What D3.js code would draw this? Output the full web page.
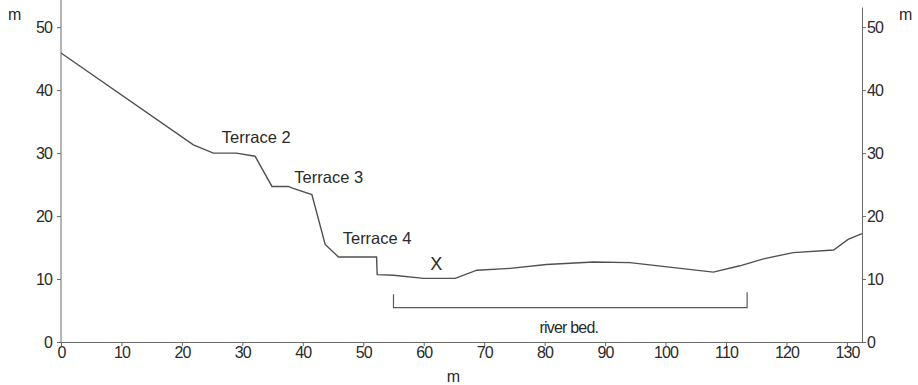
<!DOCTYPE html>
<html>
<head>
<meta charset="utf-8">
<script src="https://cdn.jsdelivr.net/npm/d3@7"></script>
<style>
    body { margin: 0; background: #fff; }
    text { font-family: "Liberation Sans", Arial, sans-serif; fill: #2a2a2a; }
    .axis path, .axis line { stroke: #6a6a6a; }
    .axis text { font-size: 16px; letter-spacing: -0.9px; }
</style>
</head>
<body>
<div id="chart"></div>
<script>
// profile distance (m) and height (m)
const distance = [0, 21.9, 25.2, 29, 32.1, 34.9, 37.6, 38.4, 41.5, 43.7, 45.9, 52.2, 52.3, 55, 60, 65.2,
    68.8, 74.3, 80.3, 88.1, 94.1, 107.9, 112.3, 116.2, 121.1, 127.8, 130.2, 132.5];
const height = [45.9, 31.3, 30.0, 30.0, 29.5, 24.7, 24.7, 24.4, 23.4, 15.5, 13.5, 13.5, 10.7, 10.6, 10.1, 10.1,
    11.4, 11.7, 12.3, 12.7, 12.6, 11.1, 12.1, 13.2, 14.2, 14.6, 16.3, 17.2];

const xTicks = [0, 10, 20, 30, 40, 50, 60, 70, 80, 90, 100, 110, 120, 130];
const yTicks = [0, 10, 20, 30, 40, 50];

// annotations
const labels = ["Terrace 2", "Terrace 3", "Terrace 4", "X"];
const labelX = [26.6, 38.6, 46.6, 61.1];
const labelY = [31.6, 25.3, 15.6, 11.4];

// river bed bracket
const bedStart = 55, bedEnd = 113.5, bedLevel = 5.45, bedTop = [7.6, 7.9];

const width = 918, heightPx = 385;
const margin = {top: 7, right: 56, bottom: 43, left: 61};

const svg = d3.select("#chart").append("svg")
    .attr("width", width)
    .attr("height", heightPx);

const xScale = d3.scaleLinear()
    .domain([0, 132.5])
    .range([margin.left, width - margin.right]);

const yScale = d3.scaleLinear()
    .domain([0, 53.2])
    .range([heightPx - margin.bottom, margin.top]);

// axes
svg.append("g")
    .attr("class", "axis")
    .attr("transform", `translate(0, ${yScale(0)})`)
    .call(d3.axisBottom(xScale).tickValues(xTicks).tickSize(4).tickPadding(1).tickSizeOuter(0));

svg.append("g")
    .attr("class", "axis")
    .attr("transform", `translate(${xScale(0)}, 0)`)
    .call(d3.axisLeft(yScale).tickValues(yTicks).tickSize(4).tickPadding(5).tickSizeOuter(0))
    .select(".domain")
    .attr("d", `M0,${yScale(0)}V0`);

svg.append("g")
    .attr("class", "axis")
    .attr("transform", `translate(${xScale(132.5)}, 0)`)
    .call(d3.axisRight(yScale).tickValues(yTicks).tickSize(4).tickPadding(1).tickSizeOuter(0));

svg.selectAll(".axis .domain").attr("stroke", "#6a6a6a");

// unit labels
svg.append("text").attr("x", 8).attr("y", 20).style("font-size", "16px").text("m");
svg.append("text").attr("x", 899).attr("y", 20).style("font-size", "16px").text("m");
svg.append("text").attr("x", xScale(64.9)).attr("y", 382)
    .attr("text-anchor", "middle").style("font-size", "16px").text("m");

// profile line
const line = d3.line()
    .x((d, i) => xScale(distance[i]))
    .y(d => yScale(d));

svg.append("path")
    .datum(height)
    .attr("d", line)
    .attr("fill", "none")
    .attr("stroke", "#505050")
    .attr("stroke-width", 1.4);

// river bed bracket
svg.append("path")
    .attr("d", `M${xScale(bedStart)},${yScale(bedTop[0])}V${yScale(bedLevel)}H${xScale(bedEnd)}V${yScale(bedTop[1])}`)
    .attr("fill", "none")
    .attr("stroke", "#5a5a5a")
    .attr("stroke-width", 1.2);

svg.append("text")
    .attr("x", xScale(84))
    .attr("y", yScale(1.4))
    .attr("text-anchor", "middle")
    .style("font-size", "16px")
    .style("letter-spacing", "-0.8px")
    .text("river bed.");

svg.selectAll(".label")
    .data(labels)
    .enter().append("text")
    .attr("class", "label")
    .attr("x", (d, i) => xScale(labelX[i]))
    .attr("y", (d, i) => yScale(labelY[i]))
    .style("font-size", (d, i) => i === 3 ? "18px" : "16.5px")
    .text(d => d);
</script>
</body>
</html>
